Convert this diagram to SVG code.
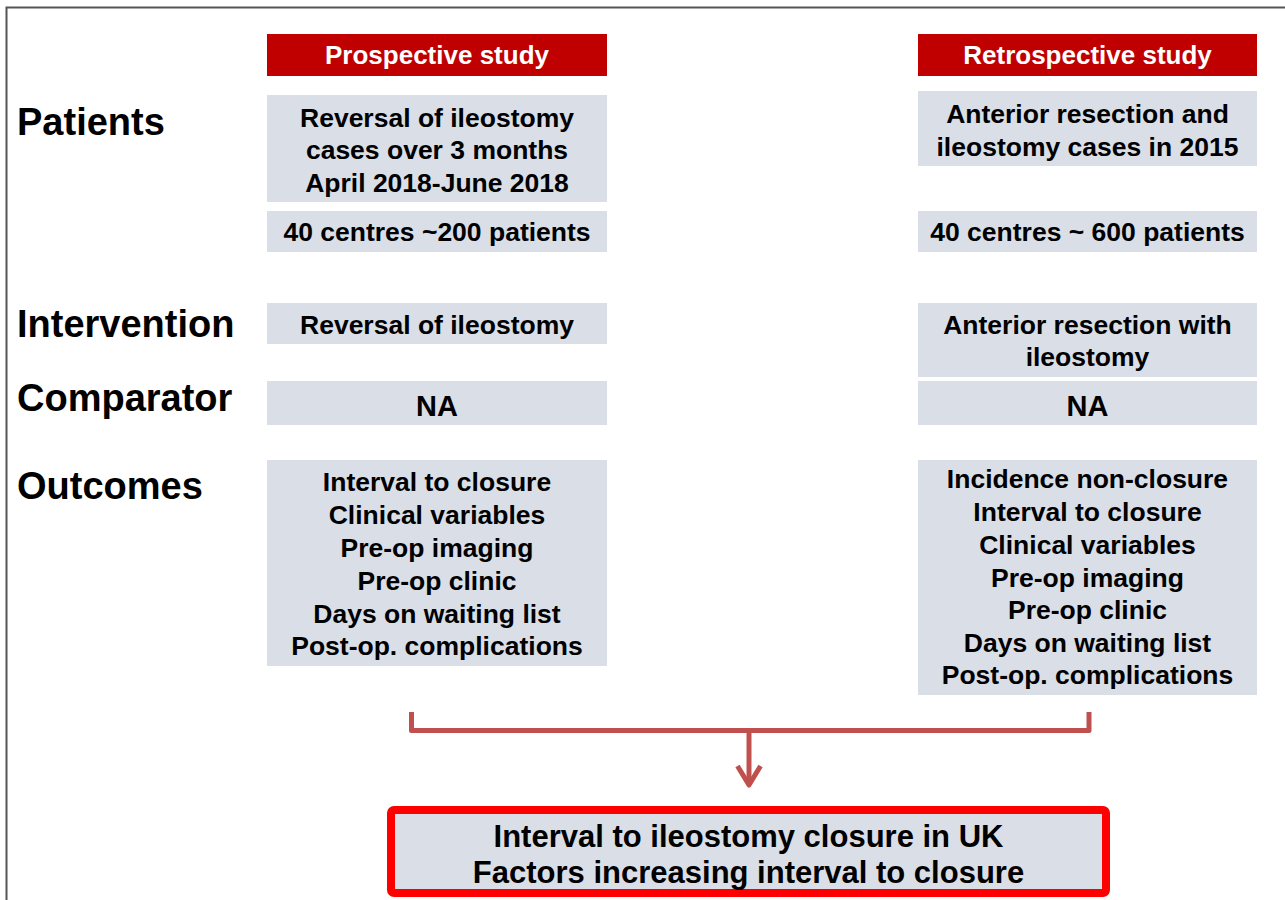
<svg xmlns="http://www.w3.org/2000/svg" width="1285" height="900" viewBox="0 0 1285 900">
<defs>
<style>
text{font-family:"Liberation Sans",Arial,sans-serif;font-weight:bold;fill:#000;}
.lab{font-size:38px;}
.c{font-size:26.5px;text-anchor:middle;}
.hd{font-size:26px;text-anchor:middle;fill:#fff;}
.na{font-size:29px;text-anchor:middle;}
.big{font-size:31px;text-anchor:middle;}
.box{fill:#D9DEE7;}
.hdr{fill:#C00000;}
.con{fill:none;stroke:#C0504D;stroke-width:5;stroke-linejoin:round;}
</style>
</defs>
<rect x="0" y="0" width="1285" height="900" fill="#fff"/>
<path d="M6.5,900 V7.5 H1285" fill="none" stroke="#555" stroke-width="2"/>

<g id="row-labels">
<text class="lab" x="17" y="135">Patients</text>
<text class="lab" x="17" y="337">Intervention</text>
<text class="lab" x="17" y="411">Comparator</text>
<text class="lab" x="17" y="499">Outcomes</text>
</g>

<g id="prospective-header">
<rect class="hdr" x="267" y="34" width="340" height="42"/>
<text class="hd" x="437" y="64">Prospective study</text>
</g>
<g id="retrospective-header">
<rect class="hdr" x="918" y="34" width="339" height="42"/>
<text class="hd" x="1087.5" y="64">Retrospective study</text>
</g>

<g id="pro-patients">
<rect class="box" x="267" y="95" width="340" height="107"/>
<text class="c" x="437" y="127">Reversal of ileostomy</text>
<text class="c" x="437" y="159">cases over 3 months</text>
<text class="c" x="437" y="192">April 2018-June 2018</text>
</g>
<g id="pro-centres">
<rect class="box" x="267" y="211" width="340" height="41"/>
<text class="c" x="437" y="241">40 centres ~200 patients</text>
</g>
<g id="retro-patients">
<rect class="box" x="918" y="91" width="339" height="75"/>
<text class="c" x="1087.5" y="123">Anterior resection and</text>
<text class="c" x="1087.5" y="156">ileostomy cases in 2015</text>
</g>
<g id="retro-centres">
<rect class="box" x="918" y="211" width="339" height="41"/>
<text class="c" x="1087.5" y="241">40 centres ~ 600 patients</text>
</g>

<g id="pro-intervention">
<rect class="box" x="267" y="303" width="340" height="41"/>
<text class="c" x="437" y="334">Reversal of ileostomy</text>
</g>
<g id="retro-intervention">
<rect class="box" x="918" y="303" width="339" height="74"/>
<text class="c" x="1087.5" y="334">Anterior resection with</text>
<text class="c" x="1087.5" y="366">ileostomy</text>
</g>

<g id="pro-comparator">
<rect class="box" x="267" y="381" width="340" height="44"/>
<text class="na" x="437" y="416">NA</text>
</g>
<g id="retro-comparator">
<rect class="box" x="918" y="381" width="339" height="44"/>
<text class="na" x="1087.5" y="416">NA</text>
</g>

<g id="pro-outcomes">
<rect class="box" x="267" y="460" width="340" height="206"/>
<text class="c" x="437" y="491">Interval to closure</text>
<text class="c" x="437" y="524">Clinical variables</text>
<text class="c" x="437" y="557">Pre-op imaging</text>
<text class="c" x="437" y="590">Pre-op clinic</text>
<text class="c" x="437" y="623">Days on waiting list</text>
<text class="c" x="437" y="655">Post-op. complications</text>
</g>
<g id="retro-outcomes">
<rect class="box" x="918" y="460" width="339" height="235"/>
<text class="c" x="1087.5" y="488">Incidence non-closure</text>
<text class="c" x="1087.5" y="521">Interval to closure</text>
<text class="c" x="1087.5" y="554">Clinical variables</text>
<text class="c" x="1087.5" y="587">Pre-op imaging</text>
<text class="c" x="1087.5" y="619">Pre-op clinic</text>
<text class="c" x="1087.5" y="652">Days on waiting list</text>
<text class="c" x="1087.5" y="684">Post-op. complications</text>
</g>

<g id="connectors">
<path class="con" d="M411.5,712 V730.5 H1089 V712"/>
<path class="con" d="M749,730.5 V783"/>
<path class="con" d="M737.5,766 L749,785 L760.5,766"/>
</g>

<g id="result">
<rect x="391" y="810" width="715" height="83" rx="3" fill="#D9DEE7" stroke="#FF0000" stroke-width="8"/>
<text class="big" x="748.5" y="847">Interval to ileostomy closure in UK</text>
<text class="big" x="748.5" y="883">Factors increasing interval to closure</text>
</g>
</svg>
